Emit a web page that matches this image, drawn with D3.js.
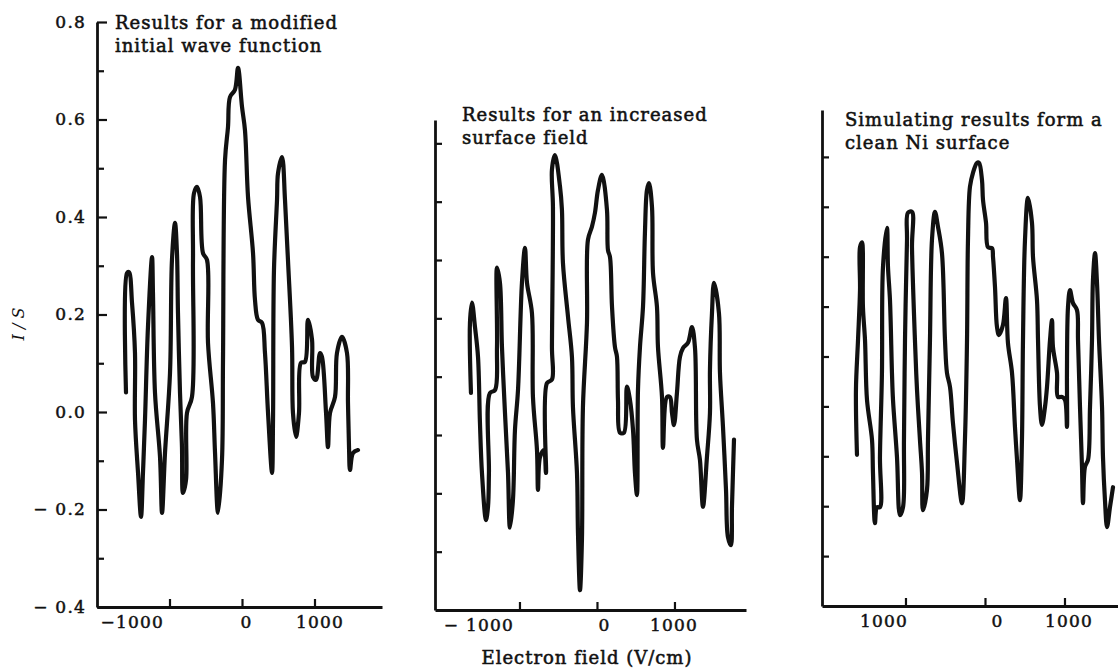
<!DOCTYPE html>
<html>
<head>
<meta charset="utf-8">
<script src="https://cdn.jsdelivr.net/npm/d3@7"></script>
<style>
  body { margin: 0; background: #fff; }
  svg { display: block; }
  text { font-family: "DejaVu Serif", serif; fill: #111; }
  .title { font-size: 18px; letter-spacing: 1px; stroke: #111; stroke-width: 0.55px; }
  .tick-label { font-size: 17px; letter-spacing: 1.2px; stroke: #111; stroke-width: 0.5px; }
  .trace { fill: none; stroke: #111; stroke-width: 4.2; stroke-linejoin: round; stroke-linecap: round; }
  .axis path, .axis line { stroke: #111; }
</style>
</head>
<body>
<div id="graph"></div>
<script>
// modified initial wave function
const leftX = [-1600, -1586, -1559, -1517, -1476, -1476, -1434, -1393, -1366, -1338, -1297, -1241, -1228, -1200,
  -1131, -1103, -1062, -993, -966, -924, -897, -883, -855, -828, -814, -772, -759, -690, -676, -662, -621, -579,
  -538, -483, -469, -400, -372, -331, -276, -262, -234, -193, -166, -97, -55, 0, 41, 83, 152, 179, 221, 276, 317,
  359, 414, 428, 441, 483, 497, 552, 593, 634, 690, 703, 745, 786, 814, 869, 910, 966, 979, 1021, 1076, 1103,
  1159, 1186, 1214, 1283, 1310, 1379, 1448, 1462, 1476, 1490, 1531, 1600];
const leftY = [0.04, 0.285, 0.287, 0.224, 0.121, -0.016, -0.125, -0.215, -0.125, -0.016, 0.174, 0.318, 0.244, 0.039,
  -0.092, -0.207, -0.084, 0.08, 0.312, 0.388, 0.326, 0.203, 0.039, -0.072, -0.166, -0.139, -0.002, 0.031, 0.312,
  0.449, 0.462, 0.441, 0.326, 0.312, 0.142, 0.018, -0.084, -0.207, -0.098, 0.107, 0.517, 0.585, 0.646, 0.661,
  0.706, 0.626, 0.578, 0.441, 0.326, 0.23, 0.189, 0.183, 0.121, -0.002, -0.125, -0.016, 0.291, 0.435, 0.49, 0.523,
  0.435, 0.312, 0.133, -0.002, -0.051, -0.002, 0.101, 0.103, 0.189, 0.148, 0.072, 0.066, 0.121, 0.113, -0.002,
  -0.072, -0.002, 0.031, 0.121, 0.154, 0.121, 0.018, -0.072, -0.119, -0.084, -0.078];

// increased surface field
const midX = [-1626, -1639, -1613, -1574, -1535, -1510, -1484, -1432, -1406, -1394, -1381, -1316, -1290, -1290,
  -1252, -1226, -1187, -1148, -1123, -1084, -1058, -1019, -968, -929, -903, -839, -826, -774, -761, -735, -684,
  -658, -645, -581, -581, -568, -581, -542, -477, -452, -439, -374, -323, -310, -258, -245, -219, -194, -181, -129,
  -116, -65, -26, 13, 65, 129, 142, 168, 194, 232, 258, 271, 297, 348, 387, 426, 465, 490, 516, 529, 555, 594,
  619, 645, 671, 710, 723, 774, 787, 839, 852, 903, 942, 968, 994, 1032, 1071, 1110, 1174, 1226, 1265, 1290,
  1329, 1368, 1419, 1458, 1458, 1484, 1510, 1574, 1587, 1626, 1665, 1690, 1729, 1742, 1768];
const midY = [-0.028, 0.092, 0.127, 0.085, 0.034, -0.079, -0.165, -0.246, -0.223, -0.165, -0.028, -0.023, 0.051,
  0.187, 0.161, 0.051, -0.062, -0.165, -0.259, -0.211, -0.091, -0.023, 0.161, 0.221, 0.161, 0.109, -0.035, -0.126,
  -0.194, -0.138, -0.126, -0.165, -0.011, -0.005, 0.051, 0.291, 0.355, 0.38, 0.326, 0.286, 0.195, 0.103, 0.034,
  -0.052, -0.165, -0.268, -0.366, -0.28, -0.052, 0.092, 0.235, 0.257, 0.281, 0.32, 0.346, 0.286, 0.217, 0.205,
  0.12, 0.051, 0.034, -0.04, -0.096, -0.096, -0.017, -0.04, -0.091, -0.165, -0.203, -0.023, 0.051, 0.12, 0.247,
  0.32, 0.332, 0.291, 0.178, 0.12, 0.051, -0.035, -0.122, -0.035, -0.035, -0.062, -0.083, -0.028, 0.034, 0.049,
  0.058, 0.085, 0.049, -0.108, -0.143, -0.223, -0.138, -0.062, 0.012, 0.109, 0.161, 0.109, 0.007, -0.086, -0.194,
  -0.275, -0.289, -0.223, -0.108];

// clean Ni surface
const rightX = [-1610, -1623, -1597, -1572, -1572, -1547, -1535, -1509, -1484, -1421, -1409, -1384, -1358, -1321,
  -1321, -1296, -1283, -1233, -1220, -1195, -1170, -1157, -1107, -1069, -1031, -1019, -1006, -981, -969, -918,
  -918, -881, -855, -818, -792, -780, -730, -717, -692, -667, -629, -591, -541, -503, -478, -440, -403, -352, -289,
  -252, -226, -214, -189, -151, -101, -75, -38, -25, 13, 38, 88, 101, 126, 151, 176, 226, 264, 289, 340, 377, 403,
  440, 465, 478, 503, 541, 591, 604, 654, 667, 692, 717, 755, 780, 818, 843, 855, 906, 918, 969, 1006, 1031, 1031,
  1044, 1069, 1107, 1157, 1170, 1195, 1220, 1233, 1258, 1296, 1321, 1346, 1358, 1384, 1409, 1434, 1472, 1484,
  1509, 1535, 1572, 1610];
const rightY = [-0.097, 0.033, 0.133, 0.233, 0.319, 0.329, 0.199, 0.133, 0.013, -0.067, -0.133, -0.234, -0.202,
  -0.202, -0.101, 0.067, 0.279, 0.358, 0.279, 0.213, 0.067, 0.013, -0.101, -0.218, -0.202, -0.067, 0.133, 0.333,
  0.388, 0.39, 0.319, 0.133, 0.033, -0.067, -0.133, -0.208, -0.168, -0.067, 0.133, 0.333, 0.39, 0.36, 0.307, 0.133,
  0.067, 0.039, -0.033, -0.113, -0.194, -0.067, 0.133, 0.333, 0.44, 0.468, 0.488, 0.488, 0.454, 0.414, 0.368,
  0.319, 0.317, 0.299, 0.239, 0.159, 0.143, 0.163, 0.217, 0.127, 0.067, -0.041, -0.107, -0.188, -0.067, 0.133,
  0.333, 0.418, 0.368, 0.299, 0.213, 0.133, -0.001, -0.037, -0.001, 0.039, 0.133, 0.173, 0.119, 0.067, 0.019,
  0.019, 0.013, -0.041, 0.067, 0.199, 0.233, 0.207, 0.193, 0.133, -0.001, -0.121, -0.194, -0.121, -0.107, -0.001,
  0.133, 0.253, 0.307, 0.247, 0.133, -0.001, -0.101, -0.188, -0.242, -0.202, -0.162];

const leftYTicks = [-0.4, -0.2, 0, 0.2, 0.4, 0.6, 0.8];
const leftYLabels = ["\u2212 0.4", "\u2212 0.2", "0.0", "0.2", "0.4", "0.6", "0.8"];
const leftYMinor = [-0.3, -0.1, 0.1, 0.3, 0.5, 0.7];
const midYTicks = [-0.3, -0.2, -0.1, 0, 0.1, 0.2, 0.3, 0.4];
const rightYTicks = [-0.3, -0.2, -0.1, 0, 0.1, 0.2, 0.3, 0.4, 0.5];
const xTicks = [-1000, 0, 1000];
const leftXLabels = ["\u22121000", "0", "1000"];
const midXLabels = ["\u2212 1000", "0", "1000"];
const rightXLabels = ["1000", "0", "1000"];

const titles = [
  ["Results for a modified", "initial wave function"],
  ["Results for an increased", "surface field"],
  ["Simulating results form a", "clean Ni surface"]
];

const width = 1118, height = 670;
const svg = d3.select("#graph").append("svg")
  .attr("width", width)
  .attr("height", height);

// each panel: axis frame in pixels, x/y domains matching that frame,
// and the small label shifts seen in the printed figure
const panels = [
  { xs: leftX, ys: leftY, left: 97, right: 382, top: 22, bottom: 607,
    xDomain: [-2000, 1931], yDomain: [-0.4, 0.8],
    yTicks: leftYTicks, yLabels: leftYLabels, yMinor: leftYMinor, xLabels: leftXLabels,
    labelDx: [-6, 4, 5],
    title: titles[0], titleX: 115, titleY: 29 },
  { xs: midX, ys: midY, left: 435, right: 746, top: 120, bottom: 610,
    xDomain: [-2090, 1923], yDomain: [-0.4, 0.44],
    yTicks: midYTicks, yLabels: null, yMinor: [], xLabels: midXLabels,
    labelDx: [-6, 7, -1],
    title: titles[1], titleX: 462, titleY: 121 },
  { xs: rightX, ys: rightY, left: 822, right: 1118, top: 110, bottom: 606,
    xDomain: [-2050, 1673], yDomain: [-0.4, 0.594],
    yTicks: rightYTicks, yLabels: null, yMinor: [], xLabels: rightXLabels,
    labelDx: [2, 12, 4],
    title: titles[2], titleX: 845, titleY: 126 }
];

panels.forEach((p, i) => {
  const x = d3.scaleLinear().domain(p.xDomain).range([p.left, p.right]);
  const y = d3.scaleLinear().domain(p.yDomain).range([p.bottom, p.top]);
  const g = svg.append("g");

  // y axis, ticks pointing inwards
  const yAxis = d3.axisLeft(y)
    .tickValues(p.yTicks)
    .tickSizeInner(p.yLabels ? -10 : -7)
    .tickSizeOuter(0)
    .tickPadding(p.yLabels ? 11 : 0)
    .tickFormat((d, k) => p.yLabels ? p.yLabels[k] : "");
  const ya = g.append("g").attr("class", "axis")
    .attr("transform", `translate(${p.left},0)`)
    .call(yAxis);
  ya.selectAll("path").attr("stroke-width", 2.8);
  ya.selectAll("line").attr("stroke-width", 2.2);
  ya.selectAll("text").attr("class", "tick-label").attr("font-size", null).attr("font-family", null);

  if (p.yMinor.length) {
    g.append("g").attr("class", "axis")
      .attr("transform", `translate(${p.left},0)`)
      .call(d3.axisLeft(y).tickValues(p.yMinor).tickSizeInner(-7).tickSizeOuter(0).tickFormat(""))
      .call(s => s.select("path").remove())
      .selectAll("line").attr("stroke-width", 2.2);
  }

  // x axis, ticks pointing up
  const xa = g.append("g").attr("class", "axis")
    .attr("transform", `translate(0,${p.bottom})`)
    .call(d3.axisBottom(x)
      .tickValues(xTicks)
      .tickSizeInner(-8)
      .tickSizeOuter(0)
      .tickPadding(9)
      .tickFormat((d, k) => p.xLabels[k]));
  xa.selectAll("path").attr("stroke-width", 2.8);
  xa.selectAll("line").attr("stroke-width", 2.2);
  xa.selectAll("text").attr("class", "tick-label").attr("font-size", null).attr("font-family", null)
    .attr("dx", (d, k) => p.labelDx[k]);
  // the leftmost label sits left of its tick in the original
  xa.selectAll(".tick").filter(d => d === -1000).select("text").attr("text-anchor", "end");

  // curve
  const pts = d3.zip(p.xs, p.ys);
  g.append("path")
    .datum(pts)
    .attr("class", "trace")
    .attr("d", d3.line().curve(d3.curveCatmullRom.alpha(0.5)).x(d => x(d[0])).y(d => y(d[1])));

  // panel caption
  const t = g.append("text").attr("class", "title")
    .attr("x", p.titleX).attr("y", p.titleY);
  t.append("tspan").attr("x", p.titleX).text(p.title[0]);
  t.append("tspan").attr("x", p.titleX).attr("dy", 23).text(p.title[1]);
});

svg.append("text")
  .attr("transform", "translate(24,324) rotate(-90)")
  .attr("text-anchor", "middle")
  .style("font-style", "italic")
  .style("font-size", "16px")
  .text("I / S");

svg.append("text")
  .attr("x", 587).attr("y", 664)
  .attr("text-anchor", "middle")
  .attr("class", "title")
  .text("Electron field (V/cm)");
</script>
</body>
</html>
